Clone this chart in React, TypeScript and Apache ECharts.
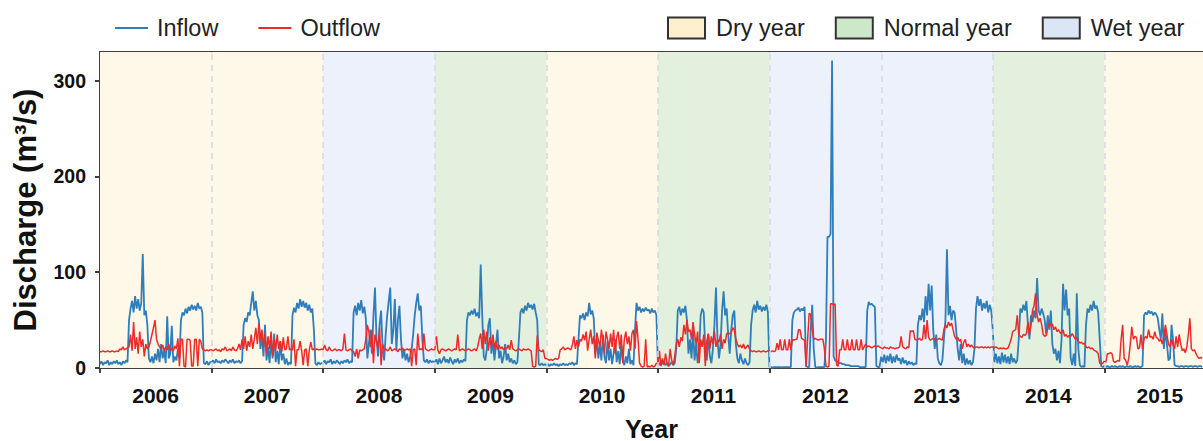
import { useEffect, useRef } from 'react';
import * as echarts from 'echarts';

// ---------- data ----------
const years = [2006, 2007, 2008, 2009, 2010, 2011, 2012, 2013, 2014, 2015];
const yearTypes = ['Dry year', 'Dry year', 'Wet year', 'Normal year', 'Dry year', 'Normal year', 'Wet year', 'Wet year', 'Normal year', 'Dry year'];
const STEP_DAYS = 5; // one value every 5 days from Jan 1 of each year
const xEnd = [2015, 10, 20]; // visible end of the time axis (the plot is cut at the right edge)
const yTicks = [0, 100, 200, 300];
const yMax = 330;

const inflow2006 = [4,7,3,6,5,8,3,6,4,7,5,8,4,6,3,7,5,8,6,50,62,70,58,75,62,72,60,68,119,55,60,45,10,6,12,5,15,8,20,6,25,10,18,5,54,10,15,44,6,12,8,20,10,50,58,55,62,57,64,60,66,61,65,60,68,62,64,58,5,4,7,3,6];
const outflow2006 = [17,17,18,17,17,18,17,17,18,17,17,18,17,20,19,22,19,20,21,22,35,18,48,20,32,15,38,22,30,12,25,20,22,28,35,42,50,30,25,22,20,24,18,22,19,25,17,21,18,23,20,31,2,30,30,2,1,30,30,29,2,2,30,30,2,30,28,20,19,18,19,18,19];
const inflow2007 = [6,8,5,9,6,7,5,8,6,9,7,5,8,6,9,5,7,6,8,5,7,45,52,48,58,55,68,80,60,70,55,50,20,35,12,45,8,22,5,30,10,36,6,18,4,28,8,15,4,10,3,6,4,55,63,58,68,62,72,64,70,63,68,60,66,58,62,40,5,3,6,4,5];
const outflow2007 = [19,18,19,20,18,19,17,20,19,22,18,19,20,18,22,19,18,20,25,19,30,20,33,18,28,22,35,20,30,42,25,47,30,40,22,36,15,33,20,38,12,30,18,35,20,28,17,32,19,20,33,19,20,19,30,2,19,19,28,18,3,19,20,2,19,27,19,20,19,20,19,19,20];
const inflow2008 = [5,8,4,7,6,9,4,7,5,8,6,4,7,5,8,6,9,5,7,6,58,65,55,68,60,71,57,64,52,10,25,40,15,55,84,30,12,45,60,20,8,35,55,70,84,25,40,72,18,50,65,30,10,20,8,15,6,12,20,35,55,68,78,60,65,30,8,6,9,5,8,6,7];
const outflow2008 = [19,24,19,18,22,19,18,19,20,18,19,19,18,20,36,19,18,19,20,18,17,12,20,10,19,18,19,20,30,45,38,22,40,5,35,28,20,42,3,25,19,20,18,19,22,18,19,20,19,17,20,19,21,18,19,20,19,20,2,19,20,3,36,19,20,19,36,20,19,18,19,20,19];
const inflow2009 = [6,9,4,10,5,8,12,6,9,5,11,7,4,9,6,10,5,8,6,9,7,50,58,55,60,56,62,54,58,52,108,55,12,8,20,45,52,15,30,8,25,40,10,18,5,12,25,8,15,6,10,5,8,4,6,30,58,62,57,65,60,68,63,66,61,67,58,50,4,3,5,3,4];
const outflow2009 = [19,33,18,15,19,20,19,18,19,20,19,18,19,20,19,35,18,19,20,19,18,19,20,19,18,19,20,18,22,30,36,20,40,25,38,18,32,22,35,20,28,19,24,20,22,19,21,20,24,19,29,20,19,18,19,20,19,18,20,19,19,20,19,18,2,1,2,34,19,18,17,19,10];
const inflow2010 = [3,4,2,4,3,5,3,4,2,4,3,5,3,4,3,5,4,6,3,5,4,30,55,52,57,50,58,54,68,56,60,52,15,30,10,25,8,35,12,5,28,8,20,4,15,30,6,18,4,25,8,3,12,5,20,4,8,3,40,68,60,64,58,62,59,63,60,61,57,62,58,60,55];
const outflow2010 = [10,9,8,9,8,9,10,9,10,19,20,22,19,20,21,20,19,24,33,20,29,22,30,28,35,29,38,18,30,40,25,33,10,37,29,22,40,28,15,38,30,20,36,22,40,15,32,38,20,35,5,30,38,25,33,18,36,40,20,49,30,5,2,1,2,30,1,2,1,3,1,2,5];
const inflow2011 = [5,3,8,4,6,3,5,2,4,6,3,5,20,60,64,55,62,58,65,50,15,30,10,40,8,25,5,18,55,62,58,20,8,35,12,5,20,45,84,30,10,25,60,80,55,62,35,15,40,55,60,25,10,5,15,8,4,10,5,3,6,45,60,66,58,70,61,65,59,64,60,66,58];
const outflow2011 = [5,18,2,10,3,15,5,2,20,8,3,12,25,30,22,32,28,45,35,50,38,40,30,48,35,25,38,5,30,22,35,2,28,36,20,33,25,38,22,30,27,35,20,30,26,36,36,36,37,42,40,30,25,22,24,21,25,20,22,24,20,18,17,18,17,17,18,17,17,18,17,17,18];
const inflow2012 = [1,1,0.5,1,1,0.8,1,1,0.6,1,1,0.8,1,1,1,50,58,60,61,63,59,62,60,64,2,1,1,40,66,20,1,0.5,1,1,1,1,1,30,137,137,140,321,12,8,7,6,5,5,4,4,3,3,3,2,2,2,2,2,2,1,1,1,1,1,60,69,66,67,65,64,2,1,1];
const outflow2012 = [17,17,18,17,18,26,19,30,19,19,30,19,19,30,19,30,29,30,30,40,40,31,30,29,2,30,57,56,40,30,31,30,29,30,30,30,20,2,1,2,67,67,66,67,3,2,19,19,30,19,19,30,19,19,30,19,19,30,19,19,30,19,22,25,22,23,22,21,22,23,22,23,22];
const inflow2013 = [12,6,14,5,13,7,15,5,12,6,14,8,10,4,11,5,8,3,7,4,6,3,5,4,45,55,50,62,48,75,55,88,60,86,40,20,35,10,5,3,8,30,50,124,55,65,50,60,58,40,20,8,25,5,15,3,10,4,8,3,6,20,62,75,65,72,60,68,62,70,58,66,60];
const outflow2013 = [21,20,22,21,21,20,22,21,21,20,21,21,22,33,22,21,20,22,21,39,38,39,30,29,30,31,29,30,45,30,50,32,29,30,31,30,29,30,31,30,29,40,45,42,48,44,47,40,33,30,32,28,30,20,27,30,22,25,22,24,22,21,22,22,21,22,22,21,22,21,22,21,22];
const inflow2014 = [40,6,15,5,12,4,16,6,14,5,12,4,15,6,10,5,8,30,62,58,66,60,70,45,30,55,48,60,52,94,60,55,62,57,50,35,55,40,60,25,15,20,8,18,5,30,88,60,82,55,62,10,3,15,2,78,20,3,1,2,1,45,62,58,66,60,70,62,65,58,30,2,1];
const outflow2014 = [22,21,22,21,20,21,20,21,20,20,21,25,30,38,39,40,55,35,33,32,35,34,36,48,35,45,60,65,78,55,48,52,45,35,33,34,42,47,44,46,40,43,38,40,37,36,40,33,35,32,34,33,36,33,30,32,28,26,27,25,26,22,21,22,20,21,19,18,17,15,5,4,5];
const inflow2015 = [2,1,2,1,1,2,1,2,1,1,2,1,2,1,1,2,1,2,1,1,2,1,2,1,1,2,55,58,56,60,57,59,55,58,56,52,40,30,57,20,40,25,8,10,45,30,3,2,2,1,2,2,1,2,2,1,2,2,1,2,2,1,2,2,1];
const outflow2015 = [7,6,15,15,16,15,7,6,7,8,7,30,45,10,8,3,10,25,43,30,33,32,20,21,35,20,30,33,31,40,32,33,30,38,32,31,28,30,25,33,45,35,25,22,30,24,20,33,22,35,25,18,20,16,22,35,52,20,18,19,15,12,10,11,10];

const inflowByYear = [inflow2006, inflow2007, inflow2008, inflow2009, inflow2010, inflow2011, inflow2012, inflow2013, inflow2014, inflow2015];
const outflowByYear = [outflow2006, outflow2007, outflow2008, outflow2009, outflow2010, outflow2011, outflow2012, outflow2013, outflow2014, outflow2015];

// ---------- styles ----------
const FONT = '"Liberation Sans", Arial, Helvetica, sans-serif';
const bandFill: Record<string, string> = {
  'Dry year': '#FEF8E8',
  'Normal year': '#E2F0DD',
  'Wet year': '#ECF1FB',
};
const bandLegend: Record<string, string> = {
  'Dry year': '#FEEFCF',
  'Normal year': '#CDE8C8',
  'Wet year': '#DCE5F6',
};
const INFLOW_COLOR = '#2F7DB9';
const OUTFLOW_COLOR = '#EC2B2B';

const ts = (y: number, m: number, d: number) => new Date(y, m, d).getTime();

function buildSeries(byYear: number[][]) {
  const out: [number, number][] = [];
  byYear.forEach((vals, k) => {
    vals.forEach((v, i) => out.push([ts(years[k], 0, 1 + STEP_DAYS * i), v]));
  });
  return out;
}

export default function App() {
  const ref = useRef<HTMLDivElement>(null);

  useEffect(() => {
    if (!ref.current) return;
    const chart = echarts.init(ref.current, undefined, { renderer: 'svg' });

    const xMin = ts(years[0], 0, 1);
    const xMax = ts(xEnd[0], xEnd[1], xEnd[2]);
    const yearStarts = years.map((y) => ts(y, 0, 1));
    const yearMids = years.map((y) => ts(y, 6, 2));

    const bandNames = ['Dry year', 'Normal year', 'Wet year'];
    const bandSeries = bandNames.map((name, bi) => ({
      name,
      type: 'line' as const,
      data: [],
      z: 1,
      silent: true,
      itemStyle: { color: bandLegend[name] },
      markArea: {
        silent: true,
        itemStyle: { color: bandFill[name] },
        data: years
          .map((y, k) => ({ y, k }))
          .filter(({ k }) => yearTypes[k] === name)
          .map(({ y }) => [{ xAxis: ts(y, 0, 1) }, { xAxis: Math.min(ts(y + 1, 0, 1), xMax) }]),
      },
      markLine:
        bi === 0
          ? {
              silent: true,
              symbol: 'none',
              label: { show: false },
              lineStyle: { color: '#D9DAE2', type: [6, 5], width: 1.6 },
              data: yearStarts.slice(1).map((t) => ({ xAxis: t })),
            }
          : undefined,
    }));

    const legendText = { fontSize: 23.5, color: '#222', fontFamily: FONT };

    chart.setOption({
      animation: false,
      backgroundColor: '#ffffff',
      textStyle: { fontFamily: FONT },
      grid: { left: 100, right: 0, top: 52, bottom: 73, containLabel: false, outerBoundsMode: 'none' },
      legend: [
        {
          data: [
            { name: 'Inflow', icon: 'rect' },
            { name: 'Outflow', icon: 'rect' },
          ],
          left: 115,
          top: 16,
          padding: 0,
          itemWidth: 33,
          itemHeight: 2.2,
          itemGap: 40,
          selectedMode: false,
          textStyle: { ...legendText, padding: [0, 0, 0, 4] },
        },
        {
          data: bandNames.map((n) => ({
            name: n,
            icon: 'rect',
            itemStyle: { color: bandLegend[n], borderColor: '#333', borderWidth: 2 },
          })),
          left: 667,
          top: 16,
          padding: 0,
          itemWidth: 37,
          itemHeight: 21,
          itemGap: 30,
          selectedMode: false,
          textStyle: { ...legendText, padding: [0, 0, 0, 6] },
        },
      ],
      xAxis: [
        {
          type: 'value',
          min: xMin,
          max: xMax,
          name: 'Year',
          nameLocation: 'middle',
          nameGap: 48,
          nameTextStyle: { fontSize: 25, fontWeight: 'bold', color: '#111', fontFamily: FONT },
          axisLine: { show: true, onZero: false, lineStyle: { color: '#404040', width: 2 } },
          axisTick: { show: true, length: 5, lineStyle: { color: '#404040', width: 2 }, customValues: yearStarts },
          axisLabel: {
            customValues: yearMids,
            formatter: (v: number) => String(new Date(v).getFullYear()),
            fontSize: 21,
            fontWeight: 'bold',
            color: '#111',
            margin: 17,
            fontFamily: FONT,
          },
          splitLine: { show: false },
        },
        {
          type: 'value',
          position: 'top',
          min: xMin,
          max: xMax,
          axisLine: { show: true, onZero: false, lineStyle: { color: '#404040', width: 2 } },
          axisTick: { show: false },
          axisLabel: { show: false },
          splitLine: { show: false },
        },
      ],
      yAxis: {
        type: 'value',
        min: 0,
        max: yMax,
        name: 'Discharge (m³/s)',
        nameLocation: 'middle',
        nameGap: 59,
        nameTextStyle: { fontSize: 31, fontWeight: 'bold', color: '#111', fontFamily: FONT },
        axisLine: { show: true, lineStyle: { color: '#404040', width: 2 } },
        axisTick: { show: true, length: 5, lineStyle: { color: '#404040', width: 2 }, customValues: yTicks },
        axisLabel: {
          customValues: yTicks,
          fontSize: 19.5,
          fontWeight: 'bold',
          color: '#111',
          margin: 14,
          fontFamily: FONT,
        },
        splitLine: { show: false },
      },
      series: [
        ...bandSeries,
        {
          name: 'Inflow',
          type: 'line',
          data: buildSeries(inflowByYear),
          showSymbol: false,
          symbol: 'none',
          z: 3,
          itemStyle: { color: INFLOW_COLOR },
          lineStyle: { color: INFLOW_COLOR, width: 1.8 },
        },
        {
          name: 'Outflow',
          type: 'line',
          data: buildSeries(outflowByYear),
          showSymbol: false,
          symbol: 'none',
          z: 4,
          itemStyle: { color: OUTFLOW_COLOR },
          lineStyle: { color: OUTFLOW_COLOR, width: 1.5 },
        },
      ],
    });

    return () => chart.dispose();
  }, []);

  return <div ref={ref} style={{ position: 'fixed', left: 0, top: 0, width: 1203, height: 441 }} />;
}
